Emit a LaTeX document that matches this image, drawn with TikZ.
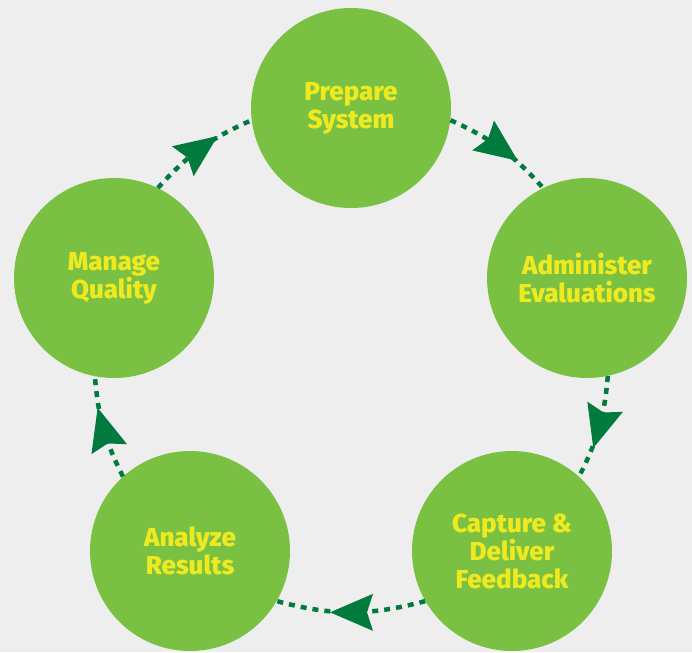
\documentclass[tikz,border=0pt]{standalone}
\usepackage{fontspec}
\setmainfont{Fira Sans}[BoldFont={Fira Sans ExtraBold}]
\usetikzlibrary{arrows.meta,decorations.markings}
\definecolor{bg}{HTML}{EEEEEE}
\definecolor{leaf}{HTML}{7AC143}
\definecolor{txt}{HTML}{EEEA1F}
\definecolor{dk}{HTML}{007A3D}
\begin{document}
\begin{tikzpicture}[x=1pt,y=1pt,
  stage/.style={circle, fill=leaf, minimum size=200pt, inner sep=0pt, text=txt,
    font=\bfseries\fontsize{26}{28}\selectfont, align=center},
  flow/.style={dk, line width=4.5pt, dash pattern=on 6pt off 6pt,
    postaction={decorate},
    decoration={markings, mark=at position 0.5 with
      {\arrow[xshift=21pt]{Stealth[length=43pt,width=37pt,inset=6pt,line width=0pt]}}}}]
  \fill[bg] (0,0) rectangle (692,-652);
  \useasboundingbox (0,0) rectangle (692,-652);
  \node[stage] (prep)  at (351,-108) {Prepare\\System};
  \node[stage] (admin) at (587,-278) {Administer\\Evaluations};
  \node[stage] (cap)   at (512,-551) {Capture \&\\Deliver\\Feedback};
  \node[stage] (ana)   at (190,-551) {Analyze\\Results};
  \node[stage] (man)   at (114,-278) {Manage\\Quality};
  \draw[flow] (prep.-7)   to[bend left=12] (admin.116);
  \draw[flow] (admin.-78) to[bend left=11] (cap.48);
  \draw[flow] (cap.210)   to[bend left=15] (ana.-30);
  \draw[flow] (ana.132)   to[bend left=11] (man.259);
  \draw[flow] (man.64)    to[bend left=12] (prep.187);
\end{tikzpicture}
\end{document}
